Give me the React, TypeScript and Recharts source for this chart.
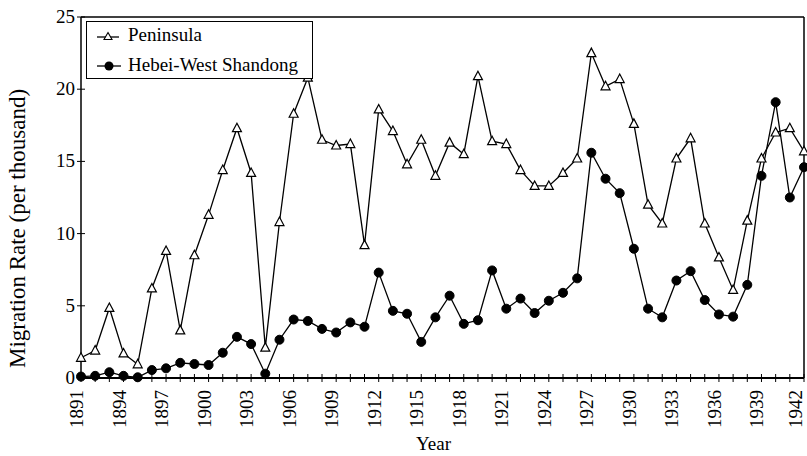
import React from 'react';
import { LineChart, Line, XAxis, YAxis, ReferenceLine, Legend } from 'recharts';

const years: number[] = [
  1891, 1892, 1893, 1894, 1895, 1896, 1897, 1898, 1899, 1900,
  1901, 1902, 1903, 1904, 1905, 1906, 1907, 1908, 1909, 1910,
  1911, 1912, 1913, 1914, 1915, 1916, 1917, 1918, 1919, 1920,
  1921, 1922, 1923, 1924, 1925, 1926, 1927, 1928, 1929, 1930,
  1931, 1932, 1933, 1934, 1935, 1936, 1937, 1938, 1939, 1940,
  1941, 1942,
];

const peninsula: number[] = [
  1.4, 1.9, 4.85, 1.7, 0.95, 6.2, 8.8, 3.3, 8.5, 11.3,
  14.4, 17.3, 14.2, 2.1, 10.8, 18.3, 20.8, 16.5, 16.1, 16.2,
  9.2, 18.6, 17.1, 14.8, 16.5, 14.0, 16.3, 15.5, 20.9, 16.4,
  16.2, 14.4, 13.3, 13.3, 14.2, 15.2, 22.5, 20.2, 20.7, 17.6,
  12.0, 10.7, 15.2, 16.6, 10.7, 8.35, 6.1, 10.9, 15.2, 17.0,
  17.3, 15.7,
];

const hebei: number[] = [
  0.1, 0.15, 0.4, 0.15, 0.05, 0.55, 0.67, 1.05, 0.97, 0.9,
  1.75, 2.85, 2.35, 0.3, 2.65, 4.05, 3.95, 3.4, 3.15, 3.85,
  3.55, 7.3, 4.65, 4.45, 2.5, 4.2, 5.7, 3.75, 4.0, 7.45,
  4.8, 5.5, 4.5, 5.35, 5.9, 6.9, 15.6, 13.8, 12.8, 8.95,
  4.8, 4.2, 6.75, 7.4, 5.4, 4.4, 4.25, 6.45, 14.0, 19.1,
  12.5, 14.6,
];

const yTicks: number[] = [0, 5, 10, 15, 20, 25];
const seriesNames = { peninsula: 'Peninsula', hebei: 'Hebei-West Shandong' };
const yLabelText = 'Migration Rate (per thousand)';
const xLabelText = 'Year';

const data = years.map((y, i) => ({ year: y, peninsula: peninsula[i], hebei: hebei[i] }));

const FONT = 'Liberation Serif, DejaVu Serif, serif';
const txt = (size: number): React.CSSProperties => ({ fontFamily: FONT, fontSize: size });

const XTick = (props: any) => {
  const { x, y, payload } = props;
  const yr = payload.value as number;
  const show = (yr - 1891) % 3 === 0;
  return (
    <g>
      <line x1={x} x2={x} y1={y - 4} y2={y + 4} stroke="#000" strokeWidth={1} />
      {show && (
        <text
          transform={`translate(${Math.min(x + 2, 802)},${y + 12}) rotate(-90)`}
          textAnchor="end"
          style={txt(19)}
          fill="#000"
        >
          {yr}
        </text>
      )}
    </g>
  );
};

const YTick = (props: any) => {
  const { x, y, payload } = props;
  return (
    <g>
      <line x1={x - 4} x2={x + 4} y1={y} y2={y} stroke="#000" strokeWidth={1} />
      <text x={x - 6} y={y + 6} textAnchor="end" style={txt(19)} fill="#000">
        {payload.value}
      </text>
    </g>
  );
};

const TriangleDot = (props: any) => {
  const { cx, cy, index } = props;
  if (cx == null || cy == null) return <g key={`t-${index}`} />;
  return (
    <path
      key={`t-${index}`}
      d={`M${cx},${cy - 5} L${cx + 4.5},${cy + 3.5} L${cx - 4.5},${cy + 3.5} Z`}
      fill="#fff"
      stroke="#000"
      strokeWidth={1.2}
    />
  );
};

const CircleDot = (props: any) => {
  const { cx, cy, index } = props;
  if (cx == null || cy == null) return <g key={`c-${index}`} />;
  return <circle key={`c-${index}`} cx={cx} cy={cy} r={4.5} fill="#000" stroke="#000" />;
};

const YLabel = (props: any) => {
  const { viewBox } = props;
  const cy = viewBox.y + viewBox.height / 2 + 31;
  return (
    <text
      transform={`translate(25,${cy}) rotate(-90)`}
      textAnchor="middle"
      style={txt(23)}
      fill="#000"
    >
      {yLabelText}
    </text>
  );
};

const XLabel = (props: any) => {
  const { viewBox } = props;
  const cx = viewBox.x + viewBox.width / 2 - 9;
  return (
    <text x={cx} y={450} textAnchor="middle" style={txt(19)} fill="#000">
      {xLabelText}
    </text>
  );
};

const LegendContent = () => (
  <svg width={227} height={58} style={{ display: 'block' }}>
    <rect x={0.5} y={0.5} width={226} height={57} fill="#fff" stroke="#000" strokeWidth={1} />
    <line x1={11} x2={33} y1={16} y2={16} stroke="#000" strokeWidth={1.3} />
    <path d="M22,11.5 L26,18.5 L18,18.5 Z" fill="#fff" stroke="#000" strokeWidth={1.1} />
    <text x={42} y={20} style={txt(19)} fill="#000">{seriesNames.peninsula}</text>
    <line x1={11} x2={35} y1={45} y2={45} stroke="#000" strokeWidth={1.3} />
    <circle cx={23} cy={45} r={4.5} fill="#000" />
    <text x={42} y={50} style={txt(19)} fill="#000">{seriesNames.hebei}</text>
  </svg>
);

export default function App() {
  return (
    <div style={{ position: 'absolute', left: 0, top: 0, width: 807, height: 456, background: '#fff' }}>
      <LineChart
        width={807}
        height={456}
        data={data}
        margin={{ top: 17, right: 3, bottom: 0, left: 0 }}
      >
        <XAxis
          dataKey="year"
          type="number"
          domain={[1891, 1942]}
          ticks={years}
          interval={0}
          height={78}
          tickSize={0}
          tickMargin={0}
          tick={<XTick />}
          axisLine={{ stroke: '#000', strokeWidth: 2 }}
          label={<XLabel />}
        />
        <YAxis
          type="number"
          domain={[0, 25]}
          ticks={yTicks}
          width={81}
          tickSize={0}
          tickMargin={0}
          tick={<YTick />}
          axisLine={{ stroke: '#000', strokeWidth: 1.5 }}
          label={<YLabel />}
        />
        <ReferenceLine y={25} stroke="#000" strokeWidth={1.5} />
        <ReferenceLine x={1942} stroke="#000" strokeWidth={1.5} />
        <Line
          dataKey="peninsula"
          name={seriesNames.peninsula}
          stroke="#000"
          strokeWidth={1.3}
          dot={<TriangleDot />}
          activeDot={false}
          isAnimationActive={false}
        />
        <Line
          dataKey="hebei"
          name={seriesNames.hebei}
          stroke="#000"
          strokeWidth={1.3}
          dot={<CircleDot />}
          activeDot={false}
          isAnimationActive={false}
        />
        <Legend
          layout="horizontal"
          verticalAlign="middle"
          align="center"
          wrapperStyle={{ left: 86, top: 21, width: 227, height: 58 }}
          content={<LegendContent />}
        />
      </LineChart>
    </div>
  );
}
